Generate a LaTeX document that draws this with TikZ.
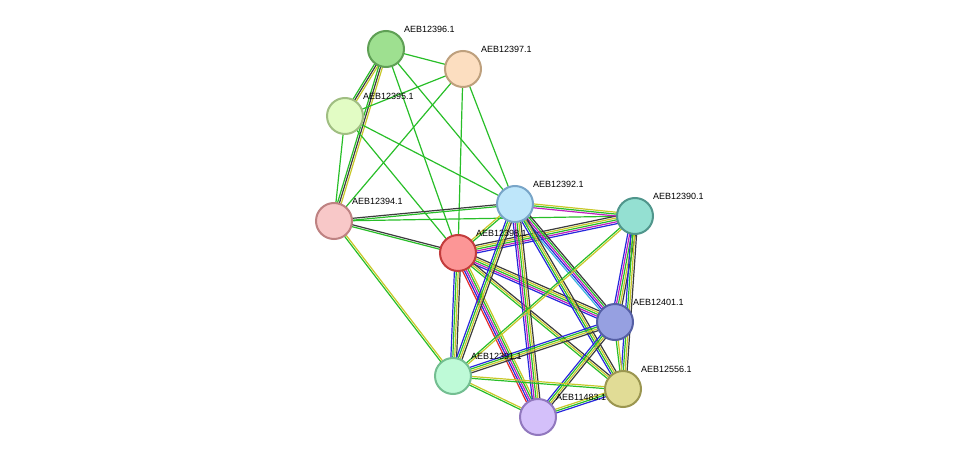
\documentclass[tikz,border=0pt]{standalone}
\usepackage{fontspec}
\setmainfont{Liberation Sans}
\usetikzlibrary{calc}
\definecolor{cg}{RGB}{40,190,40}
\definecolor{cy}{RGB}{200,200,40}
\definecolor{cb}{RGB}{40,40,220}
\definecolor{cp}{RGB}{190,30,190}
\definecolor{ck}{RGB}{60,60,60}
\definecolor{cr}{RGB}{230,40,40}
\definecolor{cc}{RGB}{60,180,220}
\newcommand\medge[4]{%
  \foreach \cl [count=\i] in {#4} {%
    \pgfmathsetmacro\off{(\i-(#3+1)/2)*1.9}%
    \draw[\cl,line width=1.2pt] ($(#1)!\off pt!90:(#2)$) -- ($(#2)!\off pt!-90:(#1)$);
  }}
\tikzset{
  prot/.style={circle,minimum size=36pt,inner sep=0pt,line width=2pt},
  lab/.style={font=\fontsize{9}{10}\selectfont,anchor=south west,inner sep=0pt}
}
\begin{document}
\begin{tikzpicture}[x=1pt,y=-1pt]
\useasboundingbox (0,0) rectangle (975,463);
\coordinate (n396) at (386,49);
\coordinate (n397) at (463,69);
\coordinate (n395) at (345,116);
\coordinate (n394) at (334,221);
\coordinate (n392) at (515,204);
\coordinate (n390) at (635,216);
\coordinate (n398) at (458,253);
\coordinate (n401) at (615,322);
\coordinate (n391) at (453,376);
\coordinate (n556) at (623,389);
\coordinate (n483) at (538,417);
% edges
\medge{n396}{n397}{1}{cg}
\medge{n396}{n395}{3}{cg,ck,cy}
\medge{n396}{n394}{3}{cg,ck,cy}
\medge{n396}{n398}{1}{cg}
\medge{n396}{n392}{1}{cg}
\medge{n397}{n395}{1}{cg}
\medge{n397}{n394}{1}{cg}
\medge{n397}{n398}{1}{cg}
\medge{n397}{n392}{1}{cg}
\medge{n395}{n394}{1}{cg}
\medge{n395}{n392}{1}{cg}
\medge{n395}{n398}{1}{cg}
\medge{n394}{n392}{2}{cg,ck}
\medge{n394}{n398}{2}{cg,ck}
\medge{n394}{n390}{1}{cg}
\medge{n394}{n391}{2}{cg,cy}
\medge{n398}{n392}{2}{cg,cy}
\medge{n398}{n390}{5}{cb,cp,cg,cy,ck}
\medge{n392}{n390}{3}{cp,cg,cy}
\medge{n398}{n401}{5}{cb,cp,cg,cy,ck}
\medge{n398}{n556}{3}{cg,cy,ck}
\medge{n398}{n483}{5}{cr,cb,cp,cg,cy}
\medge{n398}{n391}{4}{cb,cg,cy,ck}
\medge{n392}{n401}{5}{cc,cb,cp,cg,ck}
\medge{n392}{n556}{4}{cb,cg,cy,ck}
\medge{n392}{n483}{5}{cb,cp,cg,cy,ck}
\medge{n392}{n391}{4}{cb,cg,cy,ck}
\medge{n390}{n401}{5}{cb,cp,cg,cy,ck}
\medge{n390}{n556}{4}{cb,cg,cy,ck}
\medge{n390}{n391}{2}{cg,cy}
\medge{n401}{n391}{4}{cb,cg,cy,ck}
\medge{n401}{n483}{4}{cb,cg,cy,ck}
\medge{n401}{n556}{2}{cg,cy}
\medge{n391}{n556}{2}{cg,cy}
\medge{n391}{n483}{2}{cg,cy}
\medge{n483}{n556}{3}{cb,cg,cy}
% nodes
\node[prot,fill={rgb,255:red,158;green,224;blue,144},draw={rgb,255:red,95;green,160;blue,85}] (p396) at (n396) {};
\node[prot,fill={rgb,255:red,252;green,222;blue,192},draw={rgb,255:red,190;green,160;blue,125}] (p397) at (n397) {};
\node[prot,fill={rgb,255:red,226;green,252;blue,196},draw={rgb,255:red,160;green,190;blue,130}] (p395) at (n395) {};
\node[prot,fill={rgb,255:red,248;green,200;blue,200},draw={rgb,255:red,190;green,130;blue,130}] (p394) at (n394) {};
\node[prot,fill={rgb,255:red,190;green,230;blue,250},draw={rgb,255:red,120;green,165;blue,200}] (p392) at (n392) {};
\node[prot,fill={rgb,255:red,148;green,224;blue,210},draw={rgb,255:red,80;green,150;blue,140}] (p390) at (n390) {};
\node[prot,fill={rgb,255:red,252;green,150;blue,150},draw={rgb,255:red,195;green,60;blue,60}] (p398) at (n398) {};
\node[prot,fill={rgb,255:red,150;green,160;blue,225},draw={rgb,255:red,85;green,95;blue,165}] (p401) at (n401) {};
\node[prot,fill={rgb,255:red,190;green,250;blue,215},draw={rgb,255:red,115;green,190;blue,145}] (p391) at (n391) {};
\node[prot,fill={rgb,255:red,225;green,220;blue,150},draw={rgb,255:red,155;green,150;blue,80}] (p556) at (n556) {};
\node[prot,fill={rgb,255:red,212;green,192;blue,250},draw={rgb,255:red,145;green,120;blue,190}] (p483) at (n483) {};
% labels
\node[lab] (l396) at (404,33) {AEB12396.1};
\node[lab] (l397) at (481,53) {AEB12397.1};
\node[lab] (l395) at (363,100) {AEB12395.1};
\node[lab] (l394) at (352,205) {AEB12394.1};
\node[lab] (l392) at (533,188) {AEB12392.1};
\node[lab] (l390) at (653,200) {AEB12390.1};
\node[lab] (l398) at (476,237) {AEB12398.1};
\node[lab] (l401) at (633,306) {AEB12401.1};
\node[lab] (l391) at (471,360) {AEB12391.1};
\node[lab] (l556) at (641,373) {AEB12556.1};
\node[lab] (l483) at (556,401) {AEB11483.1};
\end{tikzpicture}
\end{document}
